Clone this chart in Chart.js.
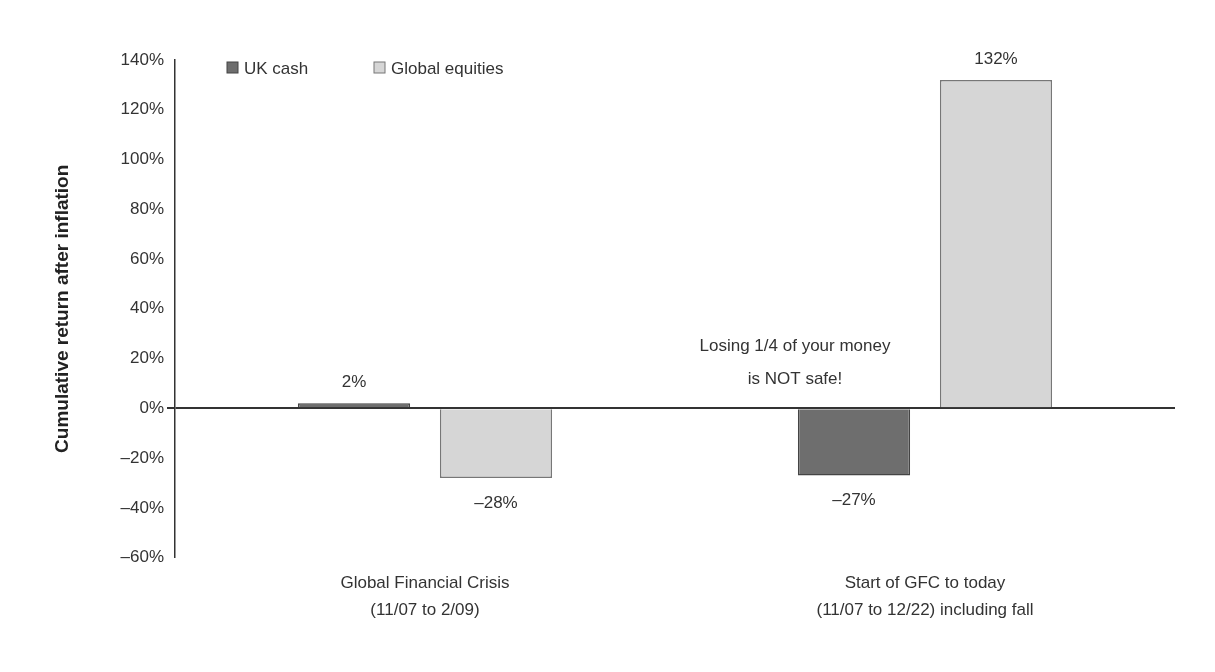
<!DOCTYPE html><html><head><script src="https://cdn.jsdelivr.net/npm/chart.js"></script>
<style>body{margin:0;background:#fff}#w{width:1215px;height:672px}</style></head><body><div id="w"><canvas id="c"></canvas></div>
<script>
const categories=[["Global Financial Crisis","(11/07 to 2/09)"],["Start of GFC to today","(11/07 to 12/22) including fall"]];
const ukCash=[2,-27];
const globalEquities=[-28,132];
const yTicks=[-60,-40,-20,0,20,40,60,80,100,120,140];
const F="'Liberation Sans', Arial, sans-serif";
const labels={id:'lbl',afterDatasetsDraw(ch){const c=ch.ctx;c.save();c.font="17px "+F;c.fillStyle="#333";c.textAlign="center";
ch.data.datasets.forEach((d,i)=>{ch.getDatasetMeta(i).data.forEach((b,j)=>{const v=d.data[j];const y=v>=0?b.y-16:b.y+30;c.fillText(v<0?'\u2013'+Math.abs(v)+'%':v+'%',b.x,y);});});
const x=ch.chartArea.left,yy=ch.chartArea.top+8;
[['#6e6e6e','#444','UK cash',x+52],['#d6d6d6','#777','Global equities',x+199]].forEach(([f,s,t,px])=>{c.fillStyle=f;c.strokeStyle=s;c.fillRect(px,yy-6,11,11);c.strokeRect(px,yy-6,11,11);c.fillStyle='#333';c.textAlign='left';c.fillText(t,px+17,yy+6);});
c.textAlign='center';c.fillText('Losing 1/4 of your money',795,351);c.fillText('is NOT safe!',795,384);c.restore();}};
new Chart(document.getElementById('c'),{type:'bar',data:{labels:categories,datasets:[
{label:'UK cash',data:ukCash,backgroundColor:'#6e6e6e',borderColor:'#444',borderWidth:1.5,categoryPercentage:0.568,barPercentage:0.79},
{label:'Global equities',data:globalEquities,backgroundColor:'#d6d6d6',borderColor:'#777',borderWidth:1.5,categoryPercentage:0.568,barPercentage:0.79}]},
options:{responsive:true,maintainAspectRatio:false,animation:false,layout:{padding:{top:60,right:40,bottom:36,left:47}},
plugins:{legend:{display:false},tooltip:{enabled:false}},
scales:{x:{grid:{display:false,drawTicks:false},border:{display:false},ticks:{color:'#333',font:{family:F,size:17,lineHeight:1.6},padding:12}},
y:{min:-60,max:140,afterBuildTicks:a=>{a.ticks=yTicks.map(v=>({value:v}));},afterFit:a=>{a.width=128;},
title:{display:true,text:'Cumulative return after inflation',color:'#222',font:{family:F,size:19,weight:'bold'}},
grid:{drawOnChartArea:true,color:c=>c.tick.value===0?'#333':'transparent',lineWidth:c=>c.tick.value===0?2:0,drawTicks:true,tickLength:8,tickColor:'#333'},
border:{display:true,color:'#333',width:1.5},
ticks:{color:'#333',font:{family:F,size:17},callback:v=>(v<0?'\u2013'+Math.abs(v):v)+'%'}}}},plugins:[labels]});
</script></body></html>
